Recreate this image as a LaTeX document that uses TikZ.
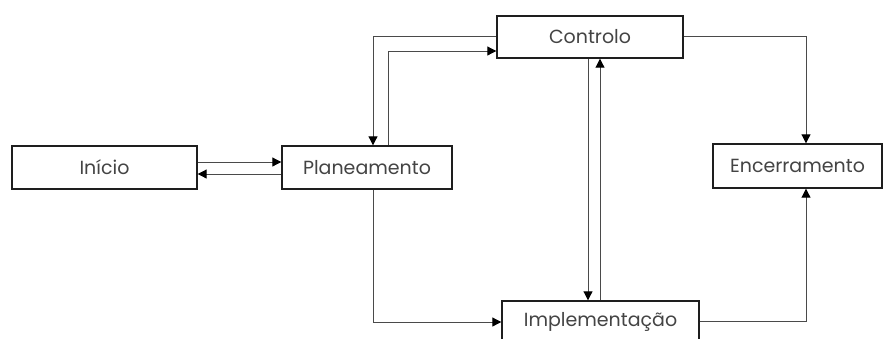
\documentclass[tikz,border=0pt]{standalone}
\usepackage{fontspec}
\setmainfont{Poppins}
\usetikzlibrary{arrows.meta}
\definecolor{boxline}{HTML}{1E1E1E}
\definecolor{linkline}{HTML}{4A4A4A}
\definecolor{labeltext}{HTML}{444444}
\tikzset{
  phase/.style={draw=boxline, line width=1.4pt, fill=white, inner sep=0pt,
    text=labeltext, font=\fontsize{19}{22}\selectfont},
  link/.style={draw=linkline, line width=1pt,
    -{Triangle[length=9pt,width=9pt,color=black]}},
}
\begin{document}
\begin{tikzpicture}[x=1pt,y=-1pt]
\useasboundingbox (0,0) rectangle (890,338);
\begin{scope}
\clip (0,0) rectangle (890,338);
% phases
\node[phase, minimum width=185pt, minimum height=43pt] (ini) at (104.5,167.5) {Início};
\node[phase, minimum width=170pt, minimum height=43pt] (pla) at (367,167.5) {Planeamento};
\node[phase, minimum width=186pt, minimum height=42pt] (con) at (590,37) {Controlo};
\node[phase, minimum width=169pt, minimum height=44pt] (enc) at (797.5,166) {Encerramento};
\node[phase, minimum width=197pt, minimum height=42pt] (imp) at (600.5,322) {Implementação};
% connectors
\draw[link] (ini.east |- 0,162) -- (pla.west |- 0,162);
\draw[link] (pla.west |- 0,174) -- (ini.east |- 0,174);
\draw[link] (con.west |- 0,36) -| (pla.north -| 373,0);
\draw[link] (pla.north -| 388,0) |- (con.west |- 0,51);
\draw[link] (con.south -| 588,0) -- (imp.north -| 588,0);
\draw[link] (imp.north -| 600,0) -- (con.south -| 600,0);
\draw[link] (con.east |- 0,36) -| (enc.north -| 806,0);
\draw[link] (imp.east |- 0,321) -| (enc.south -| 806,0);
\draw[link] (pla.south -| 373,0) |- (imp.west |- 0,322);
\end{scope}
\end{tikzpicture}
\end{document}
